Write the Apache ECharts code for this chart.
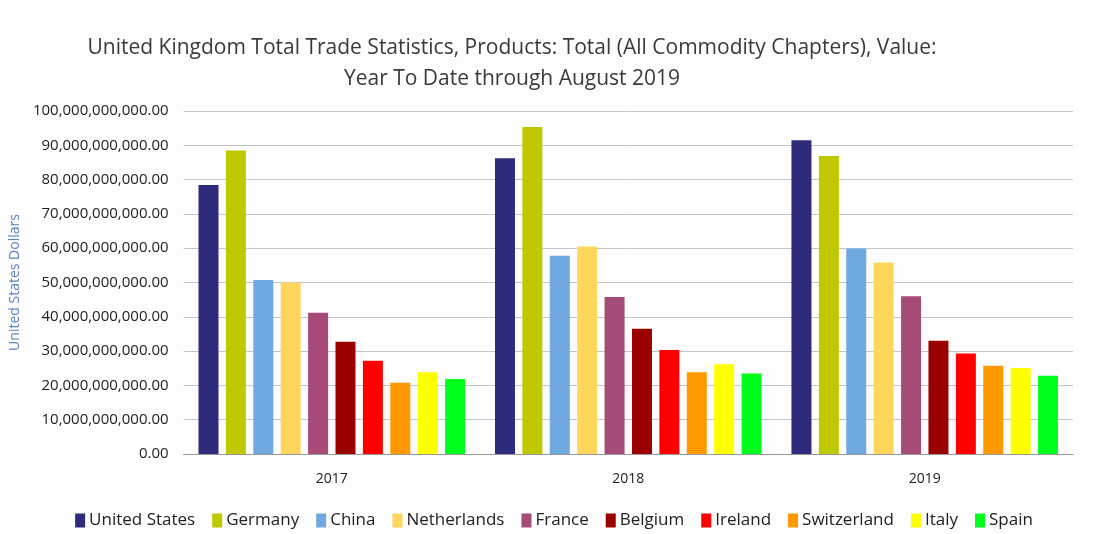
<!DOCTYPE html>
<html><head><meta charset="utf-8">
<script src="https://cdn.jsdelivr.net/npm/echarts@6/dist/echarts.min.js"></script>
<style>html,body{margin:0;padding:0;background:#fdfdfd}#c{width:1108px;height:534px}</style>
</head><body><div id="c"></div>
<script>
const years = ['2017', '2018', '2019'];
const countries = ['United States','Germany','China','Netherlands','France','Belgium','Ireland','Switzerland','Italy','Spain'];
const colors = ['#2E2B7D','#C0C800','#6FA9E0','#FFD65C','#A64A78','#9A0000','#FF0000','#FF9900','#FFFF00','#00FF1E'];
// values in billions of USD, per country: [2017, 2018, 2019]
const unitedStates = [78.4, 86.2, 91.5];
const germany      = [88.5, 95.3, 86.9];
const china        = [50.7, 57.8, 59.9];
const netherlands  = [50.0, 60.5, 55.8];
const france       = [41.2, 45.8, 46.0];
const belgium      = [32.7, 36.5, 33.0];
const ireland      = [27.2, 30.3, 29.3];
const switzerland  = [20.8, 23.8, 25.7];
const italy        = [23.8, 26.2, 25.1];
const spain        = [21.9, 23.5, 22.8];
const seriesValues = [unitedStates, germany, china, netherlands, france, belgium, ireland, switzerland, italy, spain];

const font = "'Open Sans',sans-serif";
const chart = echarts.init(document.getElementById('c'));
chart.setOption({
  backgroundColor: '#fdfdfd',
  animation: false,
  color: colors,
  title: {
    text: 'United Kingdom Total Trade Statistics, Products: Total (All Commodity Chapters), Value:\nYear To Date through August 2019',
    left: 507, top: 28, textAlign: 'center',
    textStyle: { fontFamily: font, fontSize: 21, fontWeight: 'normal', color: '#3a3a3a', lineHeight: 31 }
  },
  legend: {
    bottom: 0, left: 'center', itemWidth: 10, itemHeight: 14, itemGap: 17,
    icon: 'rect',
    textStyle: { fontFamily: font, fontSize: 17, color: '#222', padding: [0,0,0,-1] },
    data: countries
  },
  grid: { left: 180, right: 35, top: 111, bottom: 80 },
  xAxis: {
    type: 'category', data: years,
    axisLine: { lineStyle: { color: '#999' } },
    axisTick: { show: false },
    axisLabel: { fontFamily: font, fontSize: 14, color: '#222', margin: 18 }
  },
  yAxis: {
    type: 'value', min: 0, max: 100, interval: 10,
    name: 'United States Dollars', nameLocation: 'middle', nameGap: 160, nameRotate: 90,
    nameTextStyle: { fontFamily: font, fontSize: 14, color: '#5B84C4' },
    axisLine: { show: false }, axisTick: { show: false },
    axisLabel: {
      fontFamily: font, fontSize: 15, color: '#222', margin: 15,
      formatter: v => (v * 1e9).toLocaleString('en-US', { minimumFractionDigits: 2, maximumFractionDigits: 2 })
    },
    splitLine: { lineStyle: { color: '#c4c4cc', width: 1 } }
  },
  series: countries.map((name, i) => ({
    name, type: 'bar', data: seriesValues[i], barWidth: 20, barGap: '37%',
    itemStyle: { color: colors[i] }
  }))
});
</script></body></html>
